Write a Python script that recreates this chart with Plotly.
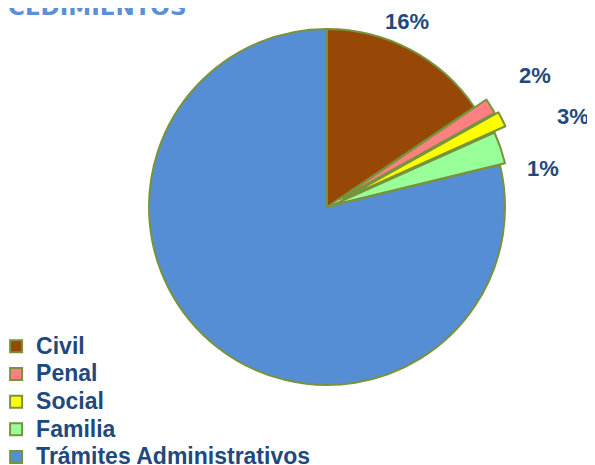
import plotly.graph_objects as go

# Datos
categorias = ["Civil", "Penal", "Social", "Familia", "Trámites Administrativos"]
valores = [15.5, 1.4, 1.4, 2.9, 78.8]
etiquetas = ["16%", "2%", "3%", "1%"]
colores = ["#974706", "#ff8080", "#ffff00", "#99ff99", "#558ed5"]
separacion = [0, 0.08, 0.1, 0.03, 0]

# posiciones de las etiquetas de porcentaje (fracción del papel)
pos_etiquetas = [(0.6706, 0.9699), (0.8857, 0.8559), (0.9496, 0.7656), (0.8992, 0.6559)]

azul_texto = "#1f497d"

# texto de la leyenda algo más grande que el interlineado
nombres = ['<span style="font-size:23px">%s</span>' % c for c in categorias]

fig = go.Figure()

fig.add_trace(go.Pie(
    labels=nombres,
    values=valores,
    textinfo="none",
    marker=dict(colors=colores, line=dict(color="#77933c", width=2)),
    pull=separacion,
    sort=False,
    direction="clockwise",
    rotation=0,
    domain=dict(x=[0.2071, 0.8652], y=[0.1510, 0.9931]),
    hoverinfo="label+percent",
))

for txt, (px, py) in zip(etiquetas, pos_etiquetas):
    fig.add_annotation(
        text=txt, xref="paper", yref="paper", x=px, y=py,
        xanchor="center", yanchor="middle", showarrow=False,
        font=dict(family="Liberation Sans, Arial", size=22, color=azul_texto, weight="bold"),
    )

# titulo (cortado en el borde superior)
fig.add_annotation(
    text="CEDIMIENTOS",
    xref="paper", yref="paper", x=-0.003, y=0.9699,
    xanchor="left", yanchor="bottom", showarrow=False,
    font=dict(family="DejaVu Sans", size=23, color="#5b8fd6", weight="bold"),
)

fig.update_layout(
    width=595, height=465,
    margin=dict(l=0, r=0, t=0, b=0, autoexpand=False),
    paper_bgcolor="white",
    plot_bgcolor="white",
    showlegend=True,
    legend=dict(
        x=-0.02, y=0.3131, xanchor="left", yanchor="top",
        font=dict(family="Liberation Sans, Arial", size=19, color=azul_texto, weight="bold"),
        bgcolor="rgba(0,0,0,0)",
    ),
)

fig.write_html("out.html")
